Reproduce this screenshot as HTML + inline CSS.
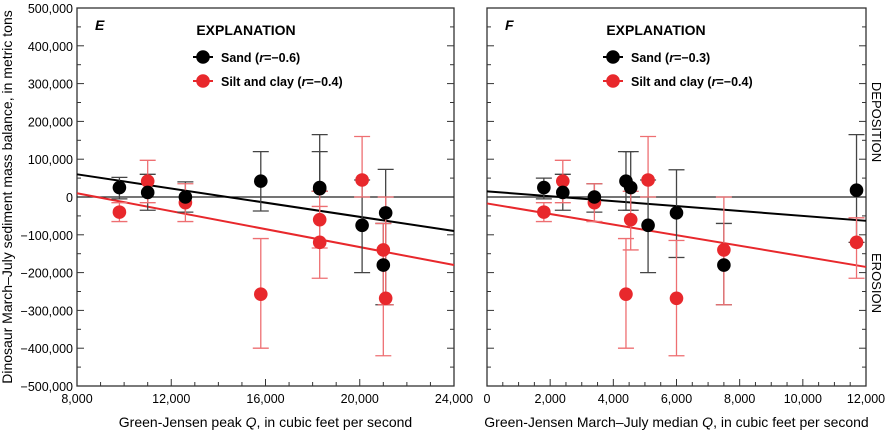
<!DOCTYPE html>
<html><head><meta charset="utf-8"><style>
body{margin:0;background:#fff}
svg{display:block;font-family:"Liberation Sans Narrow","Liberation Sans",Arial,sans-serif}
</style></head><body>
<svg id="c" width="887" height="434" viewBox="0 0 887 434"></svg>
<script>
const yTicks=[500,400,300,200,100,0,-100,-200,-300,-400,-500];
const xTicksE=[8000,12000,16000,20000,24000];
const xTicksF=[0,2000,4000,6000,8000,10000,12000];
// Panel E (peak Q) values in thousands of metric tons
const sandQE=[9800,11000,12600,15800,18300,18300,20100,21000,21100];
const sandE=[25,12,0,42,22,25,-75,-180,-42];
const sandHiE=[52,60,40,120,165,120,45,-70,73];
const sandLoE=[-5,-35,-40,-37,15,15,-200,-285,-285];
const siltQE=[9800,11000,12600,15800,18300,18300,20100,21000,21100];
const siltE=[-40,42,-15,-257,-60,-120,45,-140,-268];
const siltHiE=[-15,97,35,-110,15,-25,160,-70,0];
const siltLoE=[-65,-15,-65,-400,-215,-135,0,-420,-285];
const sandLineE=[[8000,60],[24000,-90]];
const siltLineE=[[8000,10],[24000,-180]];
// Panel F (median Q)
const sandQF=[1800,2400,3400,4400,4550,5100,6000,7500,11700];
const sandF=[25,12,0,42,25,-75,-42,-180,18];
const sandHiF=[50,60,35,120,120,45,72,-70,165];
const sandLoF=[-5,-35,-40,-35,-35,-200,-160,-285,-120];
const siltQF=[1800,2400,3400,4400,4550,5100,6000,7500,11700];
const siltF=[-40,42,-15,-257,-60,45,-268,-140,-120];
const siltHiF=[-15,97,35,-110,15,160,-115,0,-55];
const siltLoF=[-65,-15,-65,-400,-140,0,-420,-285,-215];
const sandLineF=[[0,15],[12000,-63]];
const siltLineF=[[0,-17],[12000,-185]];

const svg=document.getElementById('c');
const NS='http://www.w3.org/2000/svg';
function el(t,a,p){const e=document.createElementNS(NS,t);for(const k in a)e.setAttribute(k,a[k]);(p||svg).appendChild(e);return e;}
const yTop=8,yBot=386;
const yS=v=>yTop+(500-v)/1000*(yBot-yTop);
const RED='#e8282c';

function panel(id,x0,x1,xmin,xmax,xt,minor,letter,xlabel,sandQ,sand,sandHi,sandLo,siltQ,silt,siltHi,siltLo,sl,il,r1,r2,showY){
  const g=el('g',{});
  
  
  const xS=v=>x0+(v-xmin)/(xmax-xmin)*(x1-x0);
  const fr=el('rect',{x:x0,y:yTop,width:x1-x0,height:yBot-yTop,fill:'none',stroke:'#333','stroke-width':1.3},g);
  
  
  for(let v=-500;v<=500;v+=50){
    const y=yS(v);const L=(v%100===0)?7:4;
    el('line',{x1:x0,x2:x0+L,y1:y,y2:y,stroke:'#333'},g);
    el('line',{x1:x1,x2:x1-L,y1:y,y2:y,stroke:'#333'},g);
  }
  if(showY){
    yTicks.forEach(v=>{const t=el('text',{x:x0-4,y:yS(v)+5,'text-anchor':'end','font-size':12.5},g);
      t.textContent=v===0?'0':(v<0?'\u2212':'')+Math.abs(v*1000).toLocaleString('en-US');
      
      });
  }
  for(let v=xmin;v<=xmax;v+=minor){
    const x=xS(v);const major=xt.includes(v);
    el('line',{x1:x,x2:x,y1:yBot,y2:yBot-(major?7:4),stroke:'#333'},g);
  }
  xt.forEach(v=>{const t=el('text',{x:xS(v),y:yBot+17,'text-anchor':'middle','font-size':12.5},g);
    t.textContent=v.toLocaleString('en-US');
    
    });
  const xl=el('text',{x:(x0+x1)/2,y:yBot+41,'text-anchor':'middle','font-size':14},g);
  xl.innerHTML=xlabel;
  
  
  el('line',{x1:x0,x2:x1,y1:yS(0),y2:yS(0),stroke:'#222','stroke-width':1.2},g);
  const l1=el('line',{x1:xS(sl[0][0]),y1:yS(sl[0][1]),x2:xS(sl[1][0]),y2:yS(sl[1][1]),stroke:'#000','stroke-width':2},g);
  
  
  const l2=el('line',{x1:xS(il[0][0]),y1:yS(il[0][1]),x2:xS(il[1][0]),y2:yS(il[1][1]),stroke:RED,'stroke-width':2},g);
  
  
  function errs(Q,hi,lo,col){
    Q.forEach((q,i)=>{const x=xS(q);
      const e=el('g',{stroke:col,'stroke-width':1.3},g);
      
      
      el('line',{x1:x,x2:x,y1:yS(hi[i]),y2:yS(lo[i])},e);
      el('line',{x1:x-8,x2:x+8,y1:yS(hi[i]),y2:yS(hi[i])},e);
      el('line',{x1:x-8,x2:x+8,y1:yS(lo[i]),y2:yS(lo[i])},e);});
  }
  errs(sandQ,sandHi,sandLo,'#444');
  errs(siltQ,siltHi,siltLo,'#ee6f72');
  siltQ.forEach((q,i)=>{const c=el('circle',{cx:xS(q),cy:yS(silt[i]),r:6.8,fill:RED},g);
    
    });
  sandQ.forEach((q,i)=>{const c=el('circle',{cx:xS(q),cy:yS(sand[i]),r:6.8,fill:'#000'},g);
    
    });
  const pl=el('text',{x:x0+18,y:30,'font-size':14,'font-weight':'bold','font-style':'italic'},g);
  pl.textContent=letter;
  
  
  const lg=el('g',{},g);
  
  
  const lx=x0+126;
  const h=el('text',{x:lx+43,y:35,'font-size':14,'font-weight':'bold','text-anchor':'middle'},lg);
  h.textContent='EXPLANATION';
  el('line',{x1:lx-10,x2:lx+10,y1:57,y2:57,stroke:'#000','stroke-width':2},lg);
  el('circle',{cx:lx,cy:57,r:6.8,fill:'#000'},lg);
  const t1=el('text',{x:lx+18,y:62,'font-size':12.5,'font-weight':'bold'},lg);
  t1.innerHTML='Sand (<tspan font-style="italic">r</tspan>=\u2212'+r1+')';
  
  
  el('line',{x1:lx-10,x2:lx+10,y1:81,y2:81,stroke:RED,'stroke-width':2},lg);
  el('circle',{cx:lx,cy:81,r:6.8,fill:RED},lg);
  const t2=el('text',{x:lx+18,y:86,'font-size':12.5,'font-weight':'bold'},lg);
  t2.innerHTML='Silt and clay (<tspan font-style="italic">r</tspan>=\u2212'+r2+')';
  
  
}
panel('e',77,454,8000,24000,xTicksE,1000,'E','Green-Jensen peak <tspan font-style="italic">Q</tspan>, in cubic feet per second',
  sandQE,sandE,sandHiE,sandLoE,siltQE,siltE,siltHiE,siltLoE,sandLineE,siltLineE,'0.6','0.4',true);
panel('f',487,866,0,12000,xTicksF,500,'F','Green-Jensen March\u2013July median <tspan font-style="italic">Q</tspan>, in cubic feet per second',
  sandQF,sandF,sandHiF,sandLoF,siltQF,siltF,siltHiF,siltLoF,sandLineF,siltLineF,'0.3','0.4',false);
const yt=el('text',{x:0,y:0,'font-size':14,'text-anchor':'middle',transform:'translate(12,197) rotate(-90)'});
yt.textContent='Dinosaur March\u2013July sediment mass balance, in metric tons';


const d=el('text',{x:0,y:0,'font-size':13,'text-anchor':'middle',transform:'translate(872,122) rotate(90)'});
d.textContent='DEPOSITION';


const er=el('text',{x:0,y:0,'font-size':13,'text-anchor':'middle',transform:'translate(872,283) rotate(90)'});
er.textContent='EROSION';


</script>
</body></html>
